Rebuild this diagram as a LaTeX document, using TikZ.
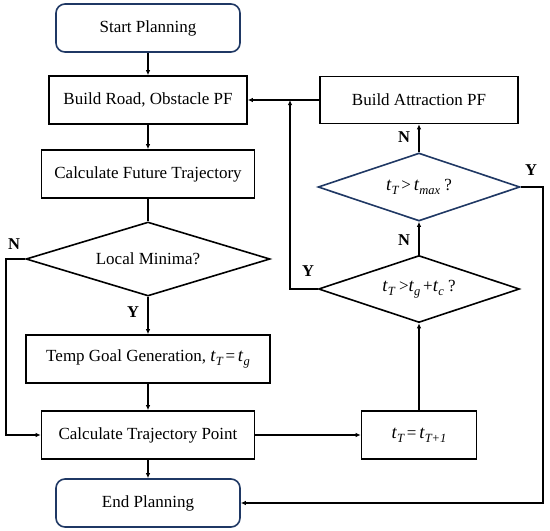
\documentclass[tikz,border=0pt]{standalone}
\usepackage{fontspec}
\setmainfont{Liberation Serif}
\usetikzlibrary{shapes.geometric,arrows.meta}
\definecolor{navy}{HTML}{1F3864}
\newcommand\myt[1]{{\fontsize{18.5}{19}\selectfont\textit{t}}\raisebox{-0.5ex}{\fontsize{12.5}{13}\selectfont\itshape #1}}
\begin{document}
\begin{tikzpicture}[x=1pt,y=-1pt,
  every node/.style={font=\fontsize{17}{19}\selectfont},
  box/.style={draw=black,line width=1.6pt,fill=white,rectangle,inner sep=0pt},
  term/.style={draw=navy,line width=1.6pt,fill=white,rectangle,rounded corners=9pt,minimum width=184pt,minimum height=48pt,inner sep=0pt},
  dec/.style={draw=black,line width=1.6pt,fill=white,diamond,inner sep=0pt},
  lab/.style={font=\fontsize{16.5}{18}\selectfont\bfseries},
  conn/.style={line width=1.5pt,-{Latex[length=5pt,width=4.5pt]}},
  plain/.style={line width=1.5pt}]
\useasboundingbox (0,0) rectangle (550,531);
\node[term] (start) at (148,28) {Start Planning};
\node[box,minimum width=198pt,minimum height=48pt] (road) at (148,100) {Build Road, Obstacle PF};
\node[box,minimum width=213pt,minimum height=48pt] (fut) at (148,174) {Calculate Future Trajectory};
\node[dec,minimum width=244pt,minimum height=74pt,aspect=3.3] (lm) at (148,259) {Local Minima?};
\node[box,minimum width=244pt,minimum height=48pt] (tg) at (148,359) {Temp Goal Generation, \myt{T}\,=\,\myt{g}};
\node[box,minimum width=213pt,minimum height=48pt] (ctp) at (148,435) {Calculate Trajectory Point};
\node[term] (end) at (148,503) {End Planning};
\node[box,minimum width=198pt,minimum height=47pt] (attr) at (419,100) {Build Attraction PF};
\node[dec,draw=navy,minimum width=202pt,minimum height=68pt,aspect=3] (tmax) at (419,187) {\myt{T}\,>\,\myt{max} ?};
\node[dec,minimum width=201pt,minimum height=67pt,aspect=3] (tgc) at (419,289) {\myt{T} >\myt{g}\,+\myt{c} ?};
\node[box,minimum width=115pt,minimum height=48pt] (inc) at (419,435) {\myt{T}\,=\,\myt{T+1}};
\coordinate (nl) at (6,259);
\coordinate (yl) at (290,289);
\coordinate (yj) at (290,100);
\coordinate (yr) at (543,187);
\draw[conn] (start) -- (road);
\draw[conn] (road) -- (fut);
\draw[plain] (fut) -- (lm);
\draw[conn] (lm) -- (tg);
\draw[conn] (tg) -- (ctp);
\draw[conn] (ctp) -- (end);
\draw[conn] (lm.west) -- (nl) |- (ctp.west);
\draw[conn] (attr.west) -- (road.east);
\draw[conn] (tmax) -- (attr);
\draw[conn] (tgc) -- (tmax);
\draw[conn] (inc) -- (tgc);
\draw[conn] (ctp.east) -- (inc.west);
\draw[conn] (tgc.west) -- (yl) -- (yj);
\draw[conn] (tmax.east) -- (yr) |- (end.east);
\node[lab] at (14,244) {N};
\node[lab] at (133,312) {Y};
\node[lab] at (404,137) {N};
\node[lab] at (404,240) {N};
\node[lab] at (308,271) {Y};
\node[lab] at (531,170) {Y};
\end{tikzpicture}
\end{document}
